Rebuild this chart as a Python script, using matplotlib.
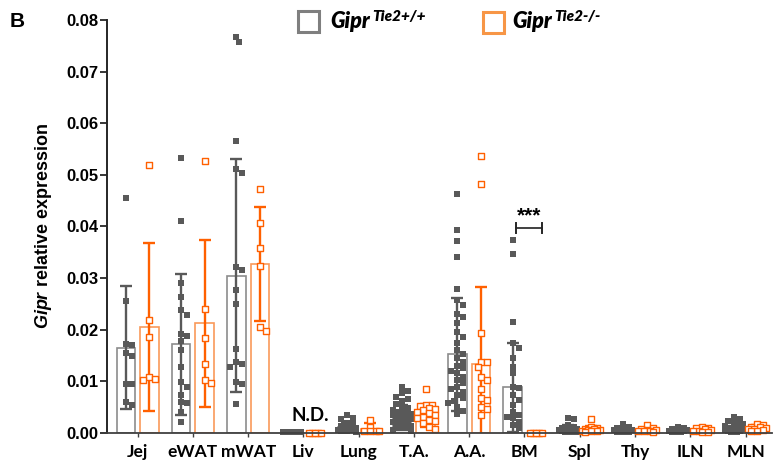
import numpy as np
import matplotlib
matplotlib.use('Agg')
import matplotlib.pyplot as plt

plt.rcParams['mathtext.fontset'] = 'custom'
plt.rcParams['mathtext.it'] = 'Liberation Sans:italic:bold'
plt.rcParams['mathtext.rm'] = 'Liberation Sans:bold'

tissues = ['Jej', 'eWAT', 'mWAT', 'Liv', 'Lung', 'T.A.', 'A.A.', 'BM', 'Spl', 'Thy', 'ILN', 'MLN']

# bar heights (mean) and SD
wt_mean = [0.0165, 0.0171, 0.0304, 0.0001, 0.0012, 0.0030, 0.0152, 0.0088, 0.0007, 0.0006, 0.0005, 0.0010]
wt_sd = [0.0119, 0.0136, 0.0226, 0.0001, 0.0009, 0.0024, 0.0110, 0.0086, 0.0008, 0.0005, 0.0003, 0.0009]
ko_mean = [0.0205, 0.0212, 0.0327, 0.0, 0.0007, 0.0034, 0.0134, 0.0, 0.0007, 0.0006, 0.0006, 0.0009]
ko_sd = [0.0163, 0.0162, 0.0110, 0.0, 0.0011, 0.0022, 0.0149, 0.0, 0.0006, 0.0004, 0.0004, 0.0005]

# individual samples, Gipr Tie2+/+
wt_pts = [
    [0.0455, 0.0256, 0.0172, 0.0170, 0.0155, 0.0149, 0.0094, 0.0094, 0.0059, 0.0054],
    [0.0532, 0.0410, 0.0291, 0.0263, 0.0238, 0.0229, 0.0191, 0.0187, 0.0178, 0.0160, 0.0128,
     0.0099, 0.0089, 0.0073, 0.0060, 0.0057, 0.0041, 0.0021],
    [0.0768, 0.0757, 0.0566, 0.0512, 0.0504, 0.0322, 0.0316, 0.0276, 0.0249, 0.0163, 0.0138,
     0.0133, 0.0128, 0.0099, 0.0094, 0.0055],
    [0.0001, 0.0001, 0.0001, 0.0001, 0.0001, 0.0001, 0.0001, 0.0001, 0.0001, 0.0001],
    [0.0034, 0.0029, 0.0027, 0.0018, 0.0016, 0.0013, 0.0012, 0.0010, 0.0008, 0.0006, 0.0005,
     0.0004, 0.0003, 0.0002],
    [0.0088, 0.0080, 0.0076, 0.0070, 0.0066, 0.0062, 0.0055, 0.0050, 0.0047, 0.0044, 0.0041,
     0.0038, 0.0036, 0.0034, 0.0032, 0.0030, 0.0029, 0.0028, 0.0026, 0.0025, 0.0023, 0.0021,
     0.0020, 0.0018, 0.0015, 0.0013, 0.0011, 0.0009, 0.0006, 0.0003],
    [0.0462, 0.0393, 0.0372, 0.0341, 0.0278, 0.0257, 0.0247, 0.0231, 0.0225, 0.0212, 0.0196,
     0.0186, 0.0173, 0.0160, 0.0152, 0.0145, 0.0138, 0.0130, 0.0125, 0.0120, 0.0115, 0.0108,
     0.0102, 0.0096, 0.0089, 0.0085, 0.0079, 0.0073, 0.0067, 0.0062, 0.0057, 0.0050, 0.0042, 0.0037],
    [0.0373, 0.0347, 0.0215, 0.0173, 0.0165, 0.0144, 0.0128, 0.0115, 0.0089, 0.0086, 0.0073,
     0.0063, 0.0054, 0.0041, 0.0034, 0.0031, 0.0028, 0.0021, 0.0015, 0.0009],
    [0.0029, 0.0026, 0.0015, 0.0012, 0.0010, 0.0008, 0.0007, 0.0006, 0.0005, 0.0004, 0.0003,
     0.0003, 0.0002, 0.0002, 0.0001],
    [0.0016, 0.0012, 0.0010, 0.0008, 0.0006, 0.0005, 0.0004, 0.0003, 0.0002, 0.0002, 0.0001],
    [0.0011, 0.0009, 0.0008, 0.0006, 0.0005, 0.0004, 0.0003, 0.0003, 0.0002, 0.0002, 0.0001],
    [0.0031, 0.0026, 0.0022, 0.0019, 0.0016, 0.0013, 0.0011, 0.0009, 0.0007, 0.0006, 0.0005,
     0.0004, 0.0003, 0.0002, 0.0001],
]

# individual samples, Gipr Tie2-/-
ko_pts = [
    [0.0519, 0.0218, 0.0186, 0.0108, 0.0104, 0.0102],
    [0.0526, 0.0239, 0.0183, 0.0134, 0.0102, 0.0096],
    [0.0473, 0.0406, 0.0359, 0.0323, 0.0205, 0.0198],
    [0.0, 0.0, 0.0, 0.0, 0.0],
    [0.0024, 0.0011, 0.0004, 0.0004, 0.0003, 0.0003],
    [0.0085, 0.0054, 0.0053, 0.0052, 0.0048, 0.0046, 0.0044, 0.0040, 0.0038, 0.0035, 0.0030,
     0.0028, 0.0025, 0.0022, 0.0018, 0.0012, 0.0008],
    [0.0536, 0.0482, 0.0194, 0.0138, 0.0137, 0.0127, 0.0108, 0.0103, 0.0084, 0.0067, 0.0063,
     0.0050, 0.0045, 0.0034],
    [0.0, 0.0, 0.0, 0.0, 0.0],
    [0.0027, 0.0011, 0.0009, 0.0008, 0.0007, 0.0006, 0.0005, 0.0004, 0.0003, 0.0003, 0.0002],
    [0.0014, 0.0010, 0.0008, 0.0006, 0.0005, 0.0004, 0.0003, 0.0003, 0.0002],
    [0.0012, 0.0010, 0.0009, 0.0007, 0.0005, 0.0004, 0.0003, 0.0002, 0.0002],
    [0.0017, 0.0014, 0.0012, 0.0011, 0.0009, 0.0008, 0.0007, 0.0005, 0.0004, 0.0003],
]

GRAY_PT = '#595959'
GRAY_BAR = '#8c8c8c'
OR_PT = '#ff6000'
OR_BAR = '#f9995a'

W, H = 777, 461
fig = plt.figure(figsize=(W / 100, H / 100), dpi=100)
ax = fig.add_axes([0.1373, 0.0614, 0.8563, 0.8952])
xlim = (-0.56, 11.48)
ylim = (0, 0.08)
ax.set_xlim(*xlim)
ax.set_ylim(*ylim)

# pixel scales, used for the swarm layout
px_x = 0.8563 * W / (xlim[1] - xlim[0])
px_y = 0.8952 * H / (ylim[1] - ylim[0])


def swarm(vals, d=6.0, half=9.0):
    vals = np.asarray(vals, dtype=float)
    order = np.argsort(vals)[::-1]
    step = d / 2
    cands = [0.0]
    k = 1
    while k * step <= half:
        cands += [k * step, -k * step]
        k += 1
    placed = []
    offs = np.zeros(len(vals))
    for i in order:
        y = vals[i] * px_y
        best, best_md = 0.0, -1
        for c in cands:
            md = min([np.hypot(c - px, y - py) for px, py in placed], default=1e9)
            if md >= d:
                best = c
                break
            if md > best_md:
                best, best_md = c, md
        offs[i] = best
        placed.append((best, y))
    return offs / px_x


x = np.arange(len(tissues))
off = 0.213
bw = 0.335

ax.bar(x - off, wt_mean, bw, facecolor='white', edgecolor=GRAY_BAR, linewidth=1.2, zorder=2)
ax.bar(x + off, ko_mean, bw, facecolor='white', edgecolor=OR_BAR, linewidth=1.2, zorder=2)
ax.errorbar(x - off, wt_mean, yerr=wt_sd, fmt='none', ecolor=GRAY_PT, elinewidth=1.7,
            capsize=4, capthick=1.7, zorder=3)
ax.errorbar(x + off, ko_mean, yerr=ko_sd, fmt='none', ecolor=OR_PT, elinewidth=1.7,
            capsize=4, capthick=1.7, zorder=3)

for i in range(len(tissues)):
    xs = x[i] - off + swarm(wt_pts[i])
    ax.scatter(xs, wt_pts[i], marker='s', s=20, color=GRAY_PT, linewidths=0, zorder=4, clip_on=False)
    xs = x[i] + off + swarm(ko_pts[i])
    ax.scatter(xs, ko_pts[i], marker='s', s=17, facecolors='white', edgecolors=OR_PT,
               linewidths=1.0, zorder=4, clip_on=False)

# axes styling
for s in ['top', 'right']:
    ax.spines[s].set_visible(False)
ax.spines['left'].set_linewidth(1.4)
ax.spines['left'].set_color('#262626')
ax.spines['bottom'].set_linestyle((0, (1.5, 1)))
ax.spines['bottom'].set_linewidth(1.3)
ax.spines['bottom'].set_color('#404040')
ax.spines['bottom'].set_zorder(5)

ax.set_yticks(np.arange(0, 0.081, 0.01))
ax.set_yticklabels(['%.2f' % v for v in np.arange(0, 0.081, 0.01)])
ax.tick_params(axis='y', length=5, width=1.3, pad=1, labelsize=12, color='#262626')
for lab in ax.get_yticklabels():
    lab.set_fontweight('bold')
    lab.set_family('Liberation Sans')
ax.set_xticks(x)
ax.set_xticklabels(tissues)
ax.tick_params(axis='x', length=3, width=1, pad=5, labelsize=12.5, color='#404040')
for lab in ax.get_xticklabels():
    lab.set_fontweight('bold')
    lab.set_family('Lato')

ax.set_ylabel(r'$\mathit{Gipr}$ relative expression', fontsize=13, fontweight='bold',
              family='Liberation Sans', labelpad=9)

# annotations
ax.text(3.12, 0.0034, 'N.D.', ha='center', va='center', fontsize=13.5, fontweight='bold', family='Lato')
bx0, bx1, by = 7 - 0.155, 7 + 0.315, 0.0397
ax.plot([bx0, bx1], [by, by], color='#404040', lw=1.4)
ax.plot([bx0, bx0], [by - 0.001, by + 0.001], color='#262626', lw=1.4)
ax.plot([bx1, bx1], [by - 0.001, by + 0.001], color='#262626', lw=1.4)
ax.text((bx0 + bx1) / 2, by + 0.0004, '***', ha='center', va='bottom', fontsize=15,
        fontweight='bold', family='Liberation Sans')

# panel letter
fig.text(10 / W, 1 - 27 / H, 'B', fontsize=15, fontweight='bold', family='Liberation Sans')

# legend
fig.add_artist(plt.Rectangle((297.5 / W, 1 - 32 / H), 21 / W, 21 / H, transform=fig.transFigure,
                             facecolor='none', edgecolor='#7f7f7f', linewidth=2.2))
fig.add_artist(plt.Rectangle((482.5 / W, 1 - 33.5 / H), 21 / W, 21 / H, transform=fig.transFigure,
                             facecolor='none', edgecolor='#f79646', linewidth=2.2))
fig.canvas.draw()
r = fig.canvas.get_renderer()
for x0, sup in [(330, 'Tie2+/+'), (512, 'Tie2-/-')]:
    t = fig.text(x0 / W, 1 - 28.5 / H, 'Gipr', fontsize=15.5, fontweight='heavy', style='italic', family='Lato')
    bb = t.get_window_extent(renderer=r)
    fig.text(bb.x1 / W + 2 / W, 1 - 21.5 / H, sup, fontsize=11, fontweight='heavy', style='italic',
             family='Lato')

fig.savefig('out.png', dpi=100)
